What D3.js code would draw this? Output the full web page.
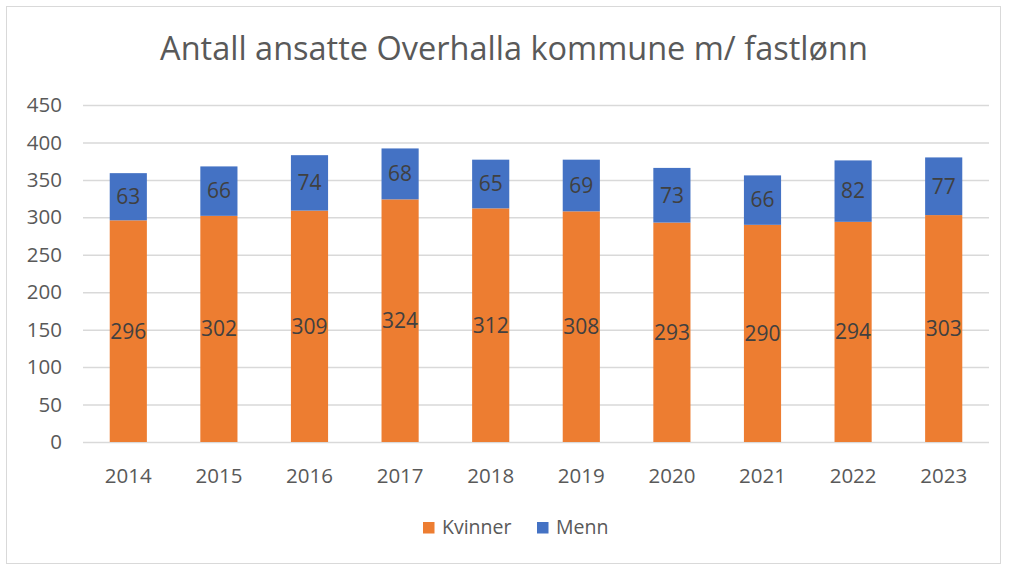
<!DOCTYPE html>
<html>
<head>
<meta charset="utf-8">
<script src="https://cdn.jsdelivr.net/npm/d3@7"></script>
<style>
  body { margin: 0; background: #fff; }
  text { font-family: "Open Sans", "Noto Sans", sans-serif; }
</style>
</head>
<body>
<div id="chart"></div>
<script>
const years = ["2014", "2015", "2016", "2017", "2018", "2019", "2020", "2021", "2022", "2023"];
const kvinner = [296, 302, 309, 324, 312, 308, 293, 290, 294, 303];
const menn = [63, 66, 74, 68, 65, 69, 73, 66, 82, 77];
const seriesNames = ["Kvinner", "Menn"];
const colors = ["#ed7d31", "#4472c4"];
const yTicks = [0, 50, 100, 150, 200, 250, 300, 350, 400, 450];

const W = 1010, H = 566;
const margin = { top: 105, right: 21, bottom: 124, left: 83 };
const width = W - margin.left - margin.right;
const height = H - margin.top - margin.bottom;

const root = d3.select("#chart").append("svg")
  .attr("width", W)
  .attr("height", H);

// outer frame
root.append("rect")
  .attr("x", 6.5).attr("y", 6.5)
  .attr("width", 994).attr("height", 557)
  .attr("fill", "#fff")
  .attr("stroke", "#d9d9d9");

root.append("text")
  .attr("x", 514).attr("y", 60)
  .attr("text-anchor", "middle")
  .attr("fill", "#595959")
  .style("font-size", "32.5px")
  .text("Antall ansatte Overhalla kommune m/ fastlønn");

const svg = root.append("g")
  .attr("transform", `translate(${margin.left},${margin.top})`);

const x = d3.scaleBand().domain(years).range([0, width]).paddingInner(0.59).paddingOuter(0.295);
const y = d3.scaleLinear().domain([0, 450]).range([height, 0]);

// grid
svg.append("g")
  .call(d3.axisLeft(y).tickValues(yTicks).tickSize(-width).tickFormat(""))
  .call(g => g.selectAll("line").attr("stroke", "#d9d9d9").attr("stroke-width", 1.5))
  .call(g => g.select(".domain").remove());

// y labels
svg.append("g")
  .call(d3.axisLeft(y).tickValues(yTicks).tickSize(0).tickPadding(21))
  .call(g => g.select(".domain").remove())
  .call(g => g.selectAll("text").attr("fill", "#595959").style("font-size", "20.5px")
    .style("font-family", "'Open Sans', sans-serif"));

// x labels
svg.append("g")
  .attr("transform", `translate(0,${height})`)
  .call(d3.axisBottom(x).tickSize(0).tickPadding(26))
  .call(g => g.select(".domain").remove())
  .call(g => g.selectAll("text").attr("fill", "#595959").style("font-size", "20.5px")
    .style("font-family", "'Open Sans', sans-serif"));

const rows = years.map((yr, i) => ({ year: yr, Kvinner: kvinner[i], Menn: menn[i] }));
const stacked = d3.stack().keys(seriesNames)(rows);

stacked.forEach((layer, li) => {
  const g = svg.append("g");
  g.selectAll("rect")
    .data(layer)
    .enter()
    .append("rect")
    .attr("x", d => x(d.data.year))
    .attr("y", d => y(d[1]))
    .attr("width", x.bandwidth())
    .attr("height", d => y(d[0]) - y(d[1]))
    .attr("fill", colors[li]);
  g.selectAll("text")
    .data(layer)
    .enter()
    .append("text")
    .attr("x", d => x(d.data.year) + x.bandwidth() / 2)
    .attr("y", d => (y(d[0]) + y(d[1])) / 2)
    .attr("dy", "0.35em")
    .attr("text-anchor", "middle")
    .attr("fill", "#404040")
    .style("font-size", "21px")
    .text(d => d[1] - d[0]);
});

// legend
const legend = root.append("g").attr("transform", "translate(423,522)");
const legendX = [0, 114];
seriesNames.forEach((name, i) => {
  legend.append("rect")
    .attr("x", legendX[i]).attr("y", 0)
    .attr("width", 11.5).attr("height", 11.5)
    .attr("fill", colors[i]);
  legend.append("text")
    .attr("x", legendX[i] + 19).attr("y", 12)
    .attr("fill", "#595959")
    .style("font-size", "19.5px")
    .text(name);
});
</script>
</body>
</html>
